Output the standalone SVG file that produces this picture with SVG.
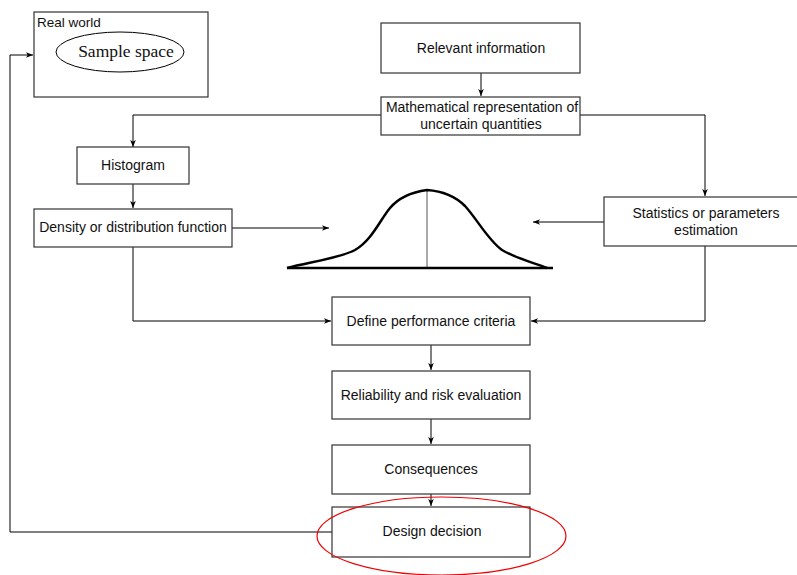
<svg xmlns="http://www.w3.org/2000/svg" width="797" height="575" viewBox="0 0 797 575">
<style>
.box{fill:#fff;stroke:#333;stroke-width:1.2}
.t{font-family:"Liberation Sans",Arial,sans-serif;font-size:14px;fill:#111;text-anchor:middle}
.c{fill:none;stroke:#000;stroke-width:1}
</style>
<defs>
<marker id="ah" viewBox="0 0 8 8" refX="8" refY="4" markerWidth="7" markerHeight="7" markerUnits="userSpaceOnUse" orient="auto">
<path d="M0,0.8 L8,4 L0,7.2 L2,4 Z" fill="#000"/>
</marker>
</defs>
<rect width="797" height="575" fill="#fff"/>
<g id="connectors">
<path class="c" d="M481,73 V96" marker-end="url(#ah)"/>
<path class="c" d="M381,115 H133 V147" marker-end="url(#ah)"/>
<path class="c" d="M580,115 H705 V196" marker-end="url(#ah)"/>
<path class="c" d="M133,184 V208" marker-end="url(#ah)"/>
<path class="c" d="M232,228 H329" marker-end="url(#ah)"/>
<path class="c" d="M604,222 H533" stroke="#555" marker-end="url(#ah)"/>
<path class="c" d="M133,247 V321 H331" marker-end="url(#ah)"/>
<path class="c" d="M705,246 V321 H531" marker-end="url(#ah)"/>
<path class="c" d="M431,345 V370" marker-end="url(#ah)"/>
<path class="c" d="M431,419 V444" marker-end="url(#ah)"/>
<path class="c" d="M431,494 V506" marker-end="url(#ah)"/>
<path class="c" d="M332,532 H10 V55 H33" marker-end="url(#ah)"/>
</g>
<g id="real-world">
<rect class="box" x="34" y="12" width="174" height="85"/>
<text x="37" y="27" font-family="Liberation Sans,Arial,sans-serif" font-size="13.5" fill="#111">Real world</text>
</g>
<g id="sample-space">
<ellipse cx="120" cy="52" rx="64" ry="20" fill="#fff" stroke="#000" stroke-width="1"/>
<text x="126" y="57" font-family="Liberation Serif,Times New Roman,serif" font-size="17.5" fill="#111" text-anchor="middle">Sample space</text>
</g>
<g id="relevant-information">
<rect class="box" x="381" y="23" width="199" height="50"/>
<text class="t" x="481" y="53">Relevant information</text>
</g>
<g id="math-representation">
<rect class="box" x="381" y="97" width="199" height="38"/>
<text class="t" x="482" y="112">Mathematical representation of</text>
<text class="t" x="481" y="129">uncertain quantities</text>
</g>
<g id="histogram">
<rect class="box" x="77" y="147" width="112" height="37"/>
<text class="t" x="133" y="170">Histogram</text>
</g>
<g id="density">
<rect class="box" x="34" y="209" width="198" height="38"/>
<text class="t" x="133" y="232">Density or distribution function</text>
</g>
<g id="bell-curve">
<line x1="427" y1="191" x2="427" y2="268" stroke="#555" stroke-width="1"/>
<line x1="287" y1="268" x2="553" y2="268" stroke="#000" stroke-width="2.5"/>
<path d="M287,268 C310,262 340,258 355,250 C372,240 380,220 390,208 C400,196 413,192 427,190 C441,191 455,196 465,206 C477,219 488,240 502,250 C517,259 535,263 547,268" fill="none" stroke="#000" stroke-width="2.5"/>
</g>
<g id="statistics">
<rect class="box" x="604" y="197" width="195" height="49"/>
<text class="t" x="706" y="218">Statistics or parameters</text>
<text class="t" x="706" y="235">estimation</text>
</g>
<g id="define-performance">
<rect class="box" x="332" y="297" width="198" height="48"/>
<text class="t" x="431" y="326">Define performance criteria</text>
</g>
<g id="reliability">
<rect class="box" x="332" y="371" width="198" height="48"/>
<text class="t" x="431" y="400">Reliability and risk evaluation</text>
</g>
<g id="consequences">
<rect class="box" x="332" y="445" width="198" height="49"/>
<text class="t" x="431" y="474">Consequences</text>
</g>
<g id="design-decision">
<rect class="box" x="332" y="507" width="198" height="50"/>
<text class="t" x="432" y="536">Design decision</text>
<ellipse cx="441.5" cy="536" rx="124.5" ry="39" fill="none" stroke="#e00" stroke-width="1.2"/>
</g>
</svg>
